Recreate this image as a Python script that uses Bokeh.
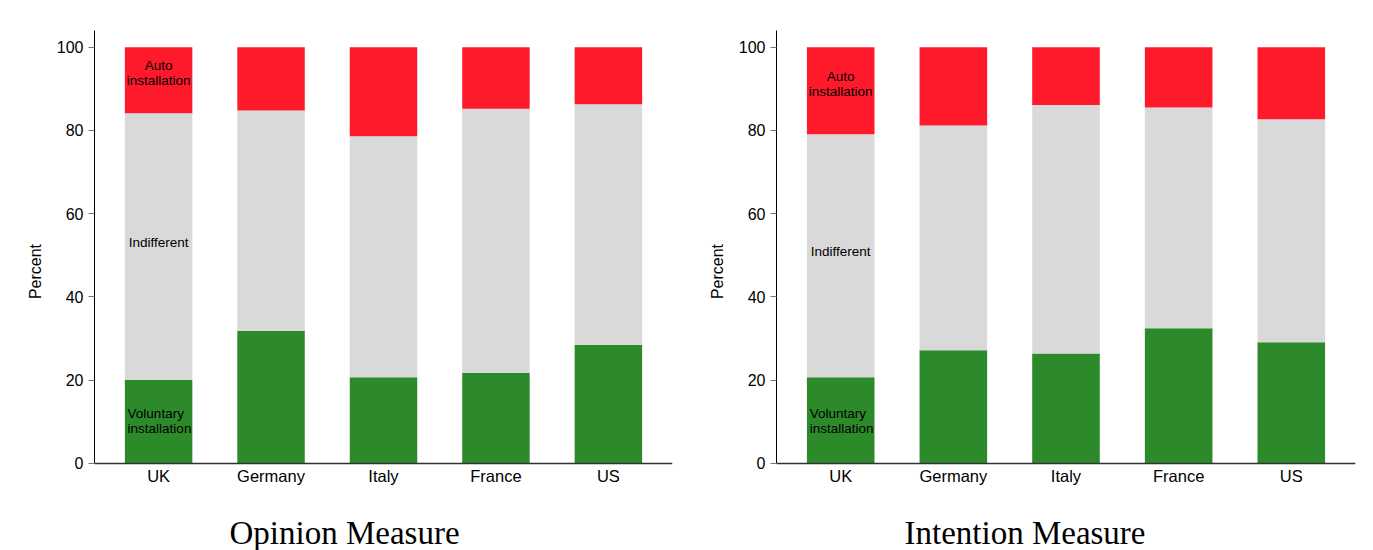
from bokeh.plotting import figure
from bokeh.models import Range1d, FixedTicker, Title, ColumnDataSource, FactorRange
from bokeh.layouts import row
from bokeh.embed import file_html
from bokeh.resources import INLINE
from bokeh.core.properties import value

countries = ["UK", "Germany", "Italy", "France", "US"]

# Opinion measure (percent)
opinion_voluntary = [20.1, 31.9, 20.7, 21.8, 28.5]
opinion_indifferent = [64.0, 52.9, 57.9, 63.4, 57.8]
opinion_auto = [15.9, 15.2, 21.4, 14.8, 13.7]

# Intention measure (percent)
intention_voluntary = [20.7, 27.2, 26.4, 32.5, 29.1]
intention_indifferent = [58.4, 54.0, 59.7, 53.0, 53.6]
intention_auto = [20.9, 18.8, 13.9, 14.5, 17.3]

segment_names = ["Voluntary\ninstallation", "Indifferent", "Auto\ninstallation"]
y_ticks = [0, 20, 40, 60, 80, 100]

GREEN = "#2D8A2A"
GRAY = "#D9D9D9"
RED = "#FF1A2B"
SANS = "Liberation Sans"
SERIF = "Liberation Serif"


def make_panel(title, vol, ind, auto, label_y, width, mb_left, mb_right, title_offset):
    p = figure(width=width, height=550,
               x_range=FactorRange(factors=countries, range_padding=0.028, range_padding_units="percent"),
               y_range=Range1d(-11.77, 104),
               output_backend="svg", toolbar_location=None,
               min_border_left=mb_left, min_border_right=mb_right,
               min_border_top=30, min_border_bottom=38,
               background_fill_color="white", border_fill_color="white")
    src = ColumnDataSource(dict(country=countries, vol=vol, ind=ind, auto=auto))
    p.vbar_stack(["vol", "ind", "auto"], x="country", width=0.6, source=src,
                 fill_color=[GREEN, GRAY, RED], line_color=None)

    # segment labels on first bar
    first = countries[0]
    p.text(x=[first, first], y=[label_y[2], label_y[1]],
           text=[segment_names[2], segment_names[1]],
           text_align="center", text_baseline="middle",
           text_font=value(SANS), text_font_size="13.5px", text_line_height=1.0,
           text_color="black")
    p.text(x=[first], y=[label_y[0]], text=[segment_names[0]],
           text_align="left", text_baseline="middle", x_offset=-31,
           text_font=value(SANS), text_font_size="13.5px", text_line_height=1.0,
           text_color="black")

    p.grid.visible = False
    p.outline_line_color = None

    xa = p.xaxis[0]
    xa.fixed_location = 0
    xa.major_tick_line_color = None
    xa.minor_tick_line_color = None
    xa.major_tick_out = 0
    xa.major_tick_in = 0
    xa.axis_line_color = "#333333"
    xa.axis_line_width = 1.5
    xa.major_label_text_font = SANS
    xa.major_label_text_font_size = "16.5px"
    xa.major_label_text_color = "black"
    xa.major_label_standoff = 4

    ya = p.yaxis[0]
    ya.bounds = (0, 104)
    ya.ticker = FixedTicker(ticks=y_ticks)
    ya.major_tick_in = 0
    ya.major_tick_out = 6
    ya.major_tick_line_color = "#777777"
    ya.minor_tick_line_color = None
    ya.axis_line_color = "black"
    ya.major_label_text_font = SANS
    ya.major_label_text_font_size = "16px"
    ya.major_label_text_color = "black"
    ya.major_label_standoff = 5
    ya.axis_label = "Percent"
    ya.axis_label_text_font = SANS
    ya.axis_label_text_font_size = "16px"
    ya.axis_label_text_font_style = "normal"
    ya.axis_label_text_color = "black"
    ya.axis_label_text_align = "left"
    ya.axis_label_standoff = 10

    t = Title(text=title, align="left", offset=title_offset,
              text_font=SERIF, text_font_size="33px", text_font_style="normal",
              text_color="black", standoff=0)
    p.add_layout(t, "below")
    return p


p1 = make_panel("Opinion Measure", opinion_voluntary, opinion_indifferent, opinion_auto,
                [10.1, 53.1, 93.7], 690, 94, 18, 135)
p2 = make_panel("Intention Measure", intention_voluntary, intention_indifferent, intention_auto,
                [10.3, 50.8, 91.1], 683, 86, 18, 128)

layout = row(p1, p2)
open("out.html", "w").write(file_html(layout, INLINE))
